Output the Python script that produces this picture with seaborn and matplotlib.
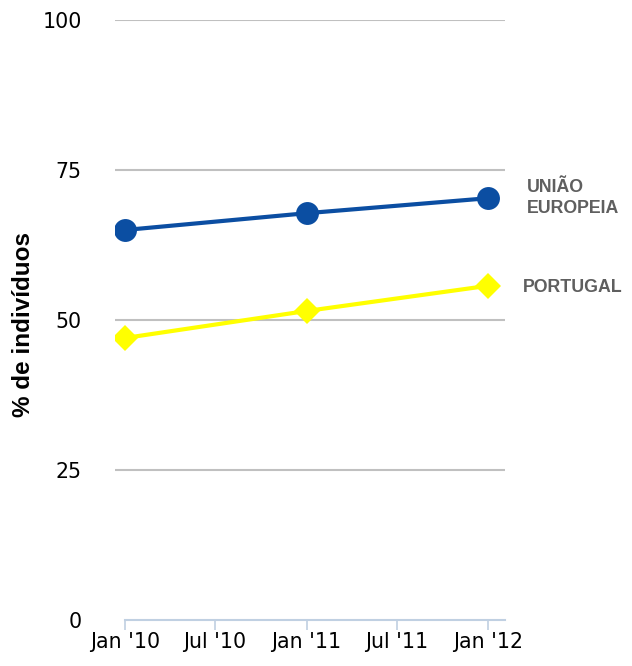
import matplotlib
matplotlib.use("Agg")
import matplotlib.pyplot as plt
import matplotlib.dates as mdates
import seaborn as sns
import pandas as pd
import numpy as np

# ---- data ----
dates = ["2010-01-01", "2011-01-01", "2012-01-01"]
ue_values = [65, 67.8, 70.3]
pt_values = [47, 51.5, 55.7]
series_names = ["UNIÃO\nEUROPEIA", "PORTUGAL"]
tick_dates = ["2010-01-01", "2010-07-01", "2011-01-01", "2011-07-01", "2012-01-01"]
tick_labels = ["Jan '10", "Jul '10", "Jan '11", "Jul '11", "Jan '12"]
y_ticks = [0, 25, 50, 75, 100]
y_label = "% de indivíduos"

df_ue = pd.DataFrame({"date": pd.to_datetime(dates), "value": ue_values})
df_pt = pd.DataFrame({"date": pd.to_datetime(dates), "value": pt_values})

sns.set_theme(style="white")
plt.rcParams["font.family"] = ["DejaVu Sans"]

W, H = 632, 666
fig = plt.figure(figsize=(W / 100, H / 100), dpi=100)
ax = fig.add_axes([115 / W, 1 - 620 / H, 390 / W, 600 / H])

blue = "#0b4ea2"
yellow = "#ffff00"

sns.lineplot(data=df_ue, x="date", y="value", ax=ax, color=blue, linewidth=3,
             marker="o", markersize=16.5, markeredgewidth=0, zorder=4)
sns.lineplot(data=df_pt, x="date", y="value", ax=ax, color=yellow, linewidth=3,
             marker="D", markersize=13, markeredgewidth=0, zorder=3)

x0 = pd.Timestamp("2010-01-01")
xmin = x0 - pd.Timedelta(days=20)
xmax = pd.Timestamp("2012-01-01") + pd.Timedelta(days=34)
ax.set_xlim(xmin, xmax)
ax.set_ylim(0, 100)

ax.set_yticks(y_ticks)
ax.set_yticklabels([str(v) for v in y_ticks])
ax.set_xticks(pd.to_datetime(tick_dates))
ax.set_xticklabels(tick_labels)

ax.tick_params(axis="y", left=False, length=0, pad=24, labelsize=14.8, labelcolor="black")
ax.tick_params(axis="x", bottom=True, length=7.5, width=1.2, color="#c0d0e2", direction="out",
               pad=1.5, labelsize=14.8, labelcolor="black")

ax.yaxis.grid(True, color="#c0c0c0", linewidth=1.5)
ax.xaxis.grid(False)
ax.set_axisbelow(True)

for s in ["top", "right", "left"]:
    ax.spines[s].set_visible(False)
ax.spines["bottom"].set_color("#c0d0e2")
ax.spines["bottom"].set_linewidth(1.5)
ax.spines["bottom"].set_bounds(mdates.date2num(x0), mdates.date2num(xmax))
ax.spines["bottom"].set_zorder(5)

ax.set_xlabel("")
ax.set_ylabel(y_label, fontsize=17.5, fontweight="bold", family="Liberation Sans", color="black")
ax.yaxis.set_label_coords(-0.205, 0.493)

# end labels
ax.annotate(series_names[0], xy=(pd.Timestamp(dates[-1]), ue_values[-1]),
            xytext=(39, 0), textcoords="offset pixels", ha="left", va="center",
            fontsize=12.8, fontweight="bold", family="Liberation Sans",
            color="#5f5f5f", linespacing=1.3, annotation_clip=False)
ax.annotate(series_names[1], xy=(pd.Timestamp(dates[-1]), pt_values[-1]),
            xytext=(35, -2), textcoords="offset pixels", ha="left", va="center",
            fontsize=12.8, fontweight="bold", family="Liberation Sans",
            color="#5f5f5f", annotation_clip=False)

fig.canvas.draw()
gl = ax.yaxis.get_gridlines()
if len(gl):
    gl[0].set_visible(False)

fig.savefig("out.png", dpi=100)
